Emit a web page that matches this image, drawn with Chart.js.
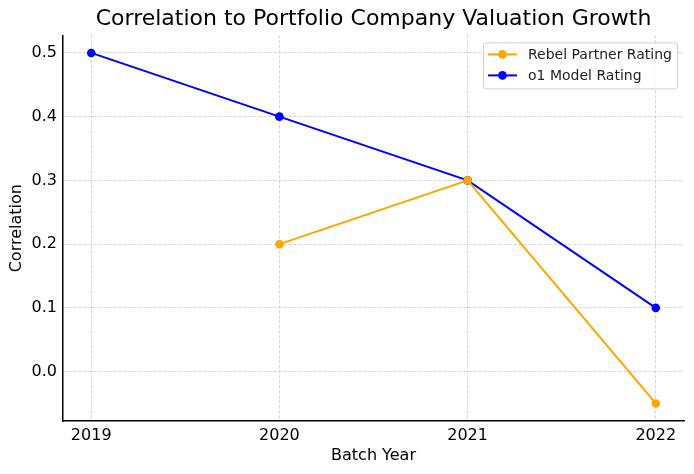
<!DOCTYPE html>
<html>
<head>
<meta charset="utf-8">
<script src="https://cdn.jsdelivr.net/npm/chart.js@4/dist/chart.umd.min.js"></script>
<style>
  html, body { margin: 0; padding: 0; background: #fff; }
  #wrap { width: 694px; height: 474px; }
</style>
</head>
<body>
<div id="wrap"><canvas id="chart" width="694" height="474"></canvas></div>
<script>
// data
const years = [2019, 2020, 2021, 2022];
const rebelPartner = [null, 0.2, 0.3, -0.05];
const o1Model = [0.5, 0.4, 0.3, 0.1];
const yTicks = [0.0, 0.1, 0.2, 0.3, 0.4, 0.5];

const FONT = "'DejaVu Sans', sans-serif";

function toPoints(vals) {
    return years.map((yr, i) => ({ x: yr, y: vals[i] }));
}

// legend box in the upper right of the plot, matplotlib style
const boxLegend = {
    id: 'boxLegend',
    afterDraw(chart) {
        const ctx = chart.ctx;
        const area = chart.chartArea;
        const sets = chart.data.datasets;
        ctx.save();
        ctx.font = '14px ' + FONT;
        let textW = 0;
        sets.forEach(ds => { textW = Math.max(textW, ctx.measureText(ds.label).width); });
        const w = 45 + textW + 5;
        const h = 46;
        const x0 = area.right - 7 - w;
        const y0 = area.top + 7;
        ctx.fillStyle = 'rgba(255,255,255,0.85)';
        ctx.strokeStyle = '#d0d0d0';
        ctx.lineWidth = 1;
        ctx.beginPath();
        ctx.roundRect(x0 + 0.5, y0 + 0.5, w, h, 3);
        ctx.fill();
        ctx.stroke();
        sets.forEach((ds, i) => {
            const cy = y0 + 12 + i * 21;
            ctx.strokeStyle = ds.borderColor;
            ctx.lineWidth = 2;
            ctx.beginPath();
            ctx.moveTo(x0 + 5, cy);
            ctx.lineTo(x0 + 34, cy);
            ctx.stroke();
            ctx.fillStyle = ds.borderColor;
            ctx.beginPath();
            ctx.arc(x0 + 19.5, cy, 4.3, 0, Math.PI * 2);
            ctx.fill();
            ctx.fillStyle = '#222';
            ctx.textBaseline = 'middle';
            ctx.fillText(ds.label, x0 + 45, cy + 1);
        });
        ctx.restore();
    }
};

const gridStyle = {
    color: '#c8c8c8',
    lineWidth: 0.8,
    drawTicks: false
};

new Chart(document.getElementById('chart'), {
    type: 'line',
    data: {
        datasets: [
            {
                label: 'Rebel Partner Rating',
                data: toPoints(rebelPartner),
                borderColor: '#FFA500',
                backgroundColor: '#FFA500',
                borderWidth: 2,
                pointRadius: 4.3,
                pointBorderWidth: 0,
                spanGaps: false
            },
            {
                label: 'o1 Model Rating',
                data: toPoints(o1Model),
                borderColor: '#0000FF',
                backgroundColor: '#0000FF',
                borderWidth: 2,
                pointRadius: 4.3,
                pointBorderWidth: 0
            }
        ]
    },
    options: {
        responsive: false,
        animation: false,
        layout: { padding: { left: 0, right: 10, top: 0, bottom: 0 } },
        plugins: {
            legend: { display: false },
            tooltip: { enabled: false },
            title: {
                display: true,
                text: 'Correlation to Portfolio Company Valuation Growth',
                fullSize: false,
                color: '#000',
                font: { family: FONT, size: 22, weight: 'normal' },
                padding: { top: 6, bottom: 3 }
            }
        },
        scales: {
            x: {
                type: 'linear',
                min: 2018.85,
                max: 2022.15,
                afterBuildTicks: s => { s.ticks = years.map(v => ({ value: v })); },
                afterFit: s => { s.height = 53; },
                grid: gridStyle,
                border: { display: true, color: '#000', width: 1.5, dash: [3, 2] },
                ticks: {
                    color: '#000',
                    padding: 5,
                    font: { family: FONT, size: 16 },
                    callback: v => String(v)
                },
                title: {
                    display: true,
                    text: 'Batch Year',
                    color: '#000',
                    font: { family: FONT, size: 16 },
                    padding: { top: 0, bottom: 9 }
                }
            },
            y: {
                min: -0.0775,
                max: 0.5275,
                afterBuildTicks: s => { s.ticks = yTicks.map(v => ({ value: v })); },
                afterFit: s => { s.width = 63; },
                grid: gridStyle,
                border: { display: true, color: '#000', width: 1.5, dash: [3, 2] },
                ticks: {
                    color: '#000',
                    padding: 6,
                    font: { family: FONT, size: 16 },
                    callback: v => v.toFixed(1)
                },
                title: {
                    display: true,
                    text: 'Correlation',
                    color: '#000',
                    font: { family: FONT, size: 16 },
                    padding: { top: 7, bottom: 0 }
                }
            }
        }
    },
    plugins: [boxLegend]
});
</script>
</body>
</html>
